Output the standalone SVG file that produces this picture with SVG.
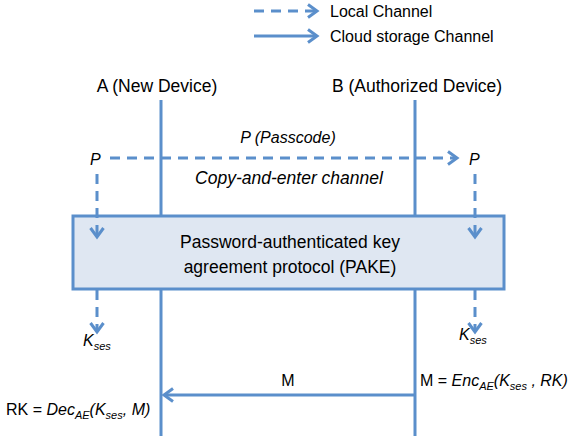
<svg xmlns="http://www.w3.org/2000/svg" width="571" height="436" viewBox="0 0 571 436">
<style>
text{font-family:"Liberation Sans",Arial,sans-serif;font-size:16px;fill:#000}
.it{font-style:italic}
.big{font-size:17.5px}
.ln{stroke:#5b8fcb;stroke-width:3;fill:none}
.ds{stroke-dasharray:10,7}
.sub{font-size:11px}
</style>
<defs>
<marker id="ah" markerWidth="14" markerHeight="16" refX="9" refY="8" orient="auto" markerUnits="userSpaceOnUse">
<path d="M1,1.5 L10,8 L1,14.5" fill="none" stroke="#5b8fcb" stroke-width="3"/>
</marker>
</defs>
<g id="legend">
<line class="ln ds" x1="254" y1="11" x2="316" y2="11" marker-end="url(#ah)"/>
<text x="330" y="17" font-size="14.5">Local Channel</text>
<line class="ln" x1="254" y1="36" x2="316" y2="36" marker-end="url(#ah)"/>
<text x="330" y="42" font-size="14.5">Cloud storage Channel</text>
</g>
<g id="lifelines">
<line class="ln" x1="161" y1="100" x2="161" y2="436"/>
<line class="ln" x1="415" y1="100" x2="415" y2="436"/>
</g>
<g id="nodeA"><text class="big" x="157" y="92" text-anchor="middle">A (New Device)</text></g>
<g id="nodeB"><text class="big" x="417" y="92" text-anchor="middle">B (Authorized Device)</text></g>
<g id="pake">
<rect x="73" y="216" width="431" height="73" fill="#dfe7f2" stroke="#5b8fcb" stroke-width="3"/>
<text class="big" x="290" y="248" text-anchor="middle">Password-authenticated key</text>
<text class="big" x="290" y="273" text-anchor="middle">agreement protocol (PAKE)</text>
</g>
<g id="connectors">
<line class="ln ds" x1="110" y1="158" x2="456" y2="158" marker-end="url(#ah)"/>
<line class="ln ds" x1="97" y1="174" x2="97" y2="236" marker-end="url(#ah)"/>
<line class="ln ds" x1="475" y1="174" x2="475" y2="236" marker-end="url(#ah)"/>
<line class="ln ds" x1="97" y1="290" x2="97" y2="331" marker-end="url(#ah)"/>
<line class="ln ds" x1="475" y1="290" x2="475" y2="331" marker-end="url(#ah)"/>
<line class="ln" x1="415" y1="395" x2="165" y2="395" marker-end="url(#ah)"/>
</g>
<g id="labels">
<text class="it" x="288" y="143" text-anchor="middle" font-size="16.5">P (Passcode)</text>
<text class="it big" x="289" y="184" text-anchor="middle">Copy-and-enter channel</text>
<text class="it" x="90" y="165">P</text>
<text class="it" x="469" y="165">P</text>
<text class="it" x="83" y="346">K<tspan class="sub" dy="4">ses</tspan></text>
<text class="it" x="459" y="340">K<tspan class="sub" dy="4">ses</tspan></text>
<text x="288" y="386" text-anchor="middle">M</text>
<text x="420" y="386">M = <tspan class="it">Enc</tspan><tspan class="it sub" dy="4">AE</tspan><tspan class="it" dy="-4">(K</tspan><tspan class="it sub" dy="4">ses</tspan><tspan class="it" dy="-4"> , RK)</tspan></text>
<text x="6" y="415">RK = <tspan class="it">Dec</tspan><tspan class="it sub" dy="4">AE</tspan><tspan class="it" dy="-4">(K</tspan><tspan class="it sub" dy="4">ses</tspan><tspan class="it" dy="-4">, M)</tspan></text>
</g>
</svg>
